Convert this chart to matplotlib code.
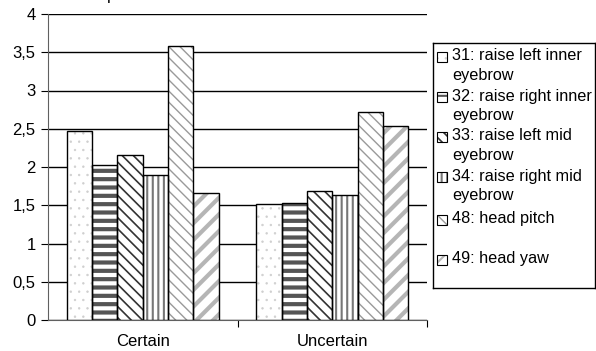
import matplotlib
matplotlib.use("Agg")
import matplotlib.pyplot as plt
from matplotlib.patches import Rectangle
import numpy as np

plt.rcParams['font.family'] = ['Liberation Sans', 'DejaVu Sans']

categories = ["Certain", "Uncertain"]
series_labels = ["31: raise left inner\neyebrow",
                 "32: raise right inner\neyebrow",
                 "33: raise left mid\neyebrow",
                 "34: raise right mid\neyebrow",
                 "48: head pitch",
                 "49: head yaw"]
au31 = [2.47, 1.51]
au32 = [2.03, 1.53]
au33 = [2.16, 1.69]
au34 = [1.89, 1.64]
au48 = [3.58, 2.72]
au49 = [1.66, 2.54]
series = [au31, au32, au33, au34, au48, au49]
yticks = [0, 0.5, 1, 1.5, 2, 2.5, 3, 3.5, 4]
ytick_labels = ["0", "0,5", "1", "1,5", "2", "2,5", "3", "3,5", "4"]

# styles: (hatch, hatch color, hatch linewidth)
styles = [
    ("..", "#cfcfcf", 0.5),
    ("--", "#555555", 3.0),
    ("\\\\\\", "#333333", 1.2),
    ("|||", "#777777", 1.5),
    ("\\\\\\", "#9a9a9a", 1.0),
    ("//", "#b5b5b5", 3.0),
]

W, H = 596, 351
fig = plt.figure(figsize=(W / 100, H / 100), dpi=100)
ax = fig.add_axes([48 / W, 1 - 320 / H, (427 - 48) / W, (320 - 14) / H])

n = len(series)
bw = 1 / (n + 1.5)
x = np.arange(len(categories))
for i, (vals, (h, hc, hl)) in enumerate(zip(series, styles)):
    pos = x - 0.5 + 0.75 * bw + (i + 0.5) * bw
    with plt.rc_context({'hatch.linewidth': hl}):
        ax.bar(pos, vals, width=bw, color="white", edgecolor=hc, hatch=h,
               linewidth=0, zorder=2)
    ax.bar(pos, vals, width=bw, color="none", edgecolor="black",
           linewidth=1.0, zorder=3)

ax.set_xlim(-0.5, len(categories) - 0.5)
ax.set_ylim(0, 4)
ax.set_yticks(yticks)
ax.set_yticklabels(ytick_labels, fontsize=12)
ax.yaxis.grid(True, color="black", linewidth=1.0, zorder=1)
ax.set_axisbelow(True)
ax.set_xticks([0.5, 1.5])
ax.set_xticklabels([])
ax.set_xticks(x, minor=True)
ax.set_xticklabels(categories, minor=True, fontsize=12)
ax.tick_params(axis='x', which='major', length=5, direction='out', color='black')
ax.tick_params(axis='x', which='minor', length=0, pad=10)
ax.tick_params(axis='y', length=5, direction='out', pad=4)
for s in ['top', 'right']:
    ax.spines[s].set_visible(False)
ax.spines['left'].set_color('#606060')
ax.spines['bottom'].set_color('#606060')

# cut-off title fragment at top
fig.text(107 / W, 1.0, "p", fontsize=12, va='baseline', ha='left')

# legend drawn manually in pixel coordinates
lax = fig.add_axes([433 / W, 1 - 288 / H, 162 / W, 245 / H])
lax.set_xlim(433, 595)
lax.set_ylim(288, 43)
lax.set_xticks([])
lax.set_yticks([])
for s in lax.spines.values():
    s.set_color('black')
    s.set_linewidth(1.0)
entry_y = [57, 97, 137, 177, 220, 260]
for lab, (h, hc, hl), yy in zip(series_labels, styles, entry_y):
    with plt.rc_context({'hatch.linewidth': min(hl, 1.5)}):
        lax.add_patch(Rectangle((437, yy - 5), 10, 10, facecolor='white',
                                edgecolor=hc, hatch=h, linewidth=0))
    lax.add_patch(Rectangle((437, yy - 5), 10, 10, facecolor='none',
                            edgecolor='black', linewidth=0.8))
    lax.text(452, yy - 8.5, lab, fontsize=11.7, va='top', ha='left',
             linespacing=1.38)

fig.savefig("out.png", dpi=100)
